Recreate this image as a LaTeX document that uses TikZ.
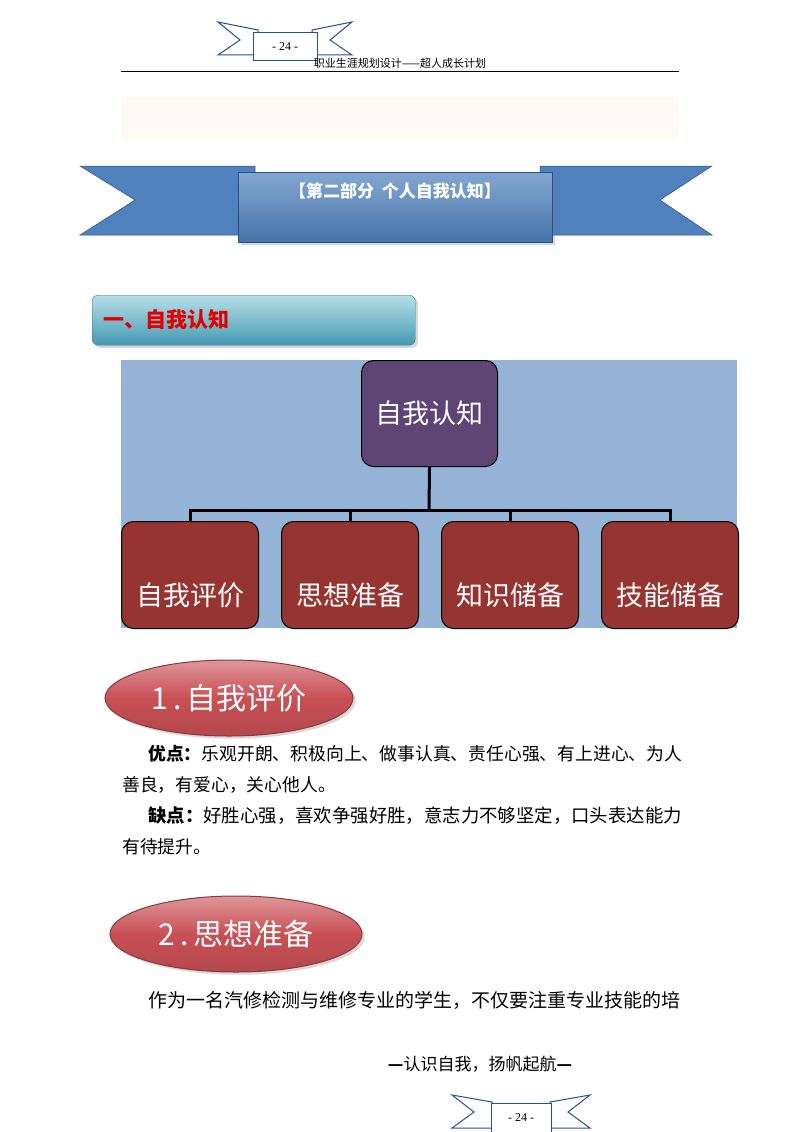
\documentclass[tikz,border=0pt]{standalone}
\usepackage{fontspec}
\setmainfont{Noto Sans CJK SC}
\newfontfamily\lib{Liberation Serif}
\usetikzlibrary{shapes.geometric,shadows}
\definecolor{rib}{RGB}{79,129,189}
\definecolor{ribd}{RGB}{40,80,140}
\definecolor{bgblue}{RGB}{149,179,215}
\definecolor{purp}{RGB}{94,69,117}
\definecolor{dred}{RGB}{150,52,50}
\definecolor{ered}{RGB}{200,80,85}
\definecolor{secc}{RGB}{75,172,198}
\tikzset{
 leaf/.style={draw=black,line width=1pt,fill=dred,rounded corners=12pt,minimum width=137pt,minimum height=107pt,anchor=north west},
 leaftext/.style={text=white,font=\fontsize{27}{30}\selectfont},
 link/.style={line width=3pt,black},
 body/.style={anchor=base west,font=\fontsize{17.8}{20}\selectfont,inner sep=0pt},
 oval/.style={ellipse,draw=ered!70!black,line width=1pt,top color=ered!60!white,bottom color=ered!90!black,middle color=ered,font=\fontsize{30}{32}\selectfont,text=white,drop shadow={opacity=0.3}},
 smallrib/.style={draw=ribd,line width=1pt,fill=white}
}
\begin{document}
\begin{tikzpicture}[x=1pt,y=-1pt]
\useasboundingbox (0,0) rectangle (800,1132);
\fill[white] (0,0) rectangle (800,1132);
% top small ribbon
\draw[smallrib] (218,22) -- (258,30) -- (258,55) -- (218,55) -- (240,40) -- cycle;
\draw[smallrib] (352,22) -- (312,30) -- (312,55) -- (352,55) -- (330,40) -- cycle;
\node[smallrib,minimum width=64pt,minimum height=28pt,font=\lib\fontsize{12}{14}\selectfont] (pg) at (285,47) {- 24 -};
\node[font=\fontsize{11}{12}\selectfont] (hdr) at (400,63) {职业生涯规划设计——超人成长计划};
\draw[line width=1pt] (121,72) -- (679,72);
\fill[orange!4] (121,97) rectangle (679,140);
% big ribbon
\draw[ribd,fill=rib,line width=0.5pt] (80,166) -- (255,166) -- (255,235) -- (80,235) -- (135,200) -- cycle;
\draw[ribd,fill=rib,line width=0.5pt] (712,166) -- (540,166) -- (540,235) -- (712,235) -- (660,200) -- cycle;
\node[draw=ribd,top color=rib!70!white,bottom color=rib!90!black,minimum width=314pt,minimum height=70pt,drop shadow={opacity=0.3}] (ban) at (395,207) {};
\node[text=white,font=\bfseries\fontsize{17}{18}\selectfont] (bant) at (395,191) {【第二部分\ \ 个人自我认知】};
% section header
\node[draw=secc!70!black,rounded corners=6pt,top color=secc!40!white,bottom color=secc!90!black,minimum width=323pt,minimum height=50pt,anchor=north west,drop shadow={opacity=0.3}] (sec) at (92,295) {};
\node[anchor=west,text=red!90!black,font=\bfseries\fontsize{21}{24}\selectfont] (sect) at (100,320) {一、自我认知};
% chart
\fill[bgblue] (121,360) rectangle (737,628);
\node[draw=black,line width=1pt,fill=purp,rounded corners=12pt,minimum width=136pt,minimum height=106pt,text=white,font=\fontsize{27}{30}\selectfont,anchor=north west] (root) at (361,360) {自我认知};
\node[leaf] (a) at (121,521) {};
\node[leaf] (b) at (281,521) {};
\node[leaf] (c) at (441,521) {};
\node[leaf] (d) at (601,521) {};
\foreach \n/\t in {a/自我评价,b/思想准备,c/知识储备,d/技能储备}{
 \node[leaftext] at ([yshift=-20pt]\n.center) {\t};
}
\coordinate (m) at (429,510);
\draw[link] (root.south) -- (m);
\draw[link] (a.north) |- (m) -| (d.north);
\draw[link] (b.north) -- (b.north|-m);
\draw[link] (c.north) -- (c.north|-m);
% ellipses
\node[oval,minimum width=248pt,minimum height=76pt] (e1) at (229,698) {1\,.\,自我评价};
\node[oval,minimum width=252pt,minimum height=76pt] (e2) at (236,934) {2\,.\,思想准备};
\node[body] (l1) at (148,760) {\textbf{优点：}乐观开朗、积极向上、做事认真、责任心强、有上进心、为人};
\node[body] (l2) at (122,791) {善良，有爱心，关心他人。};
\node[body,font=\fontsize{18.4}{20}\selectfont] (l3) at (148,822) {\textbf{缺点：}好胜心强，喜欢争强好胜，意志力不够坚定，口头表达能力};
\node[body] (l4) at (122,853) {有待提升。};
\node[body,font=\fontsize{19}{20}\selectfont] (l5) at (148,1007) {作为一名汽修检测与维修专业的学生，不仅要注重专业技能的培};
\node[font=\fontsize{17}{18}\selectfont] (motto) at (480,1064) {\textbf{—}认识自我，扬帆起航\textbf{—}};
% bottom ribbon
\draw[smallrib] (452,1095) -- (492,1102) -- (492,1128) -- (452,1128) -- (474,1112) -- cycle;
\draw[smallrib] (590,1095) -- (550,1102) -- (550,1128) -- (590,1128) -- (568,1112) -- cycle;
\node[smallrib,minimum width=60pt,minimum height=30pt,font=\lib\fontsize{12}{14}\selectfont] (pg2) at (521,1118) {- 24 -};
\end{tikzpicture}
\end{document}
